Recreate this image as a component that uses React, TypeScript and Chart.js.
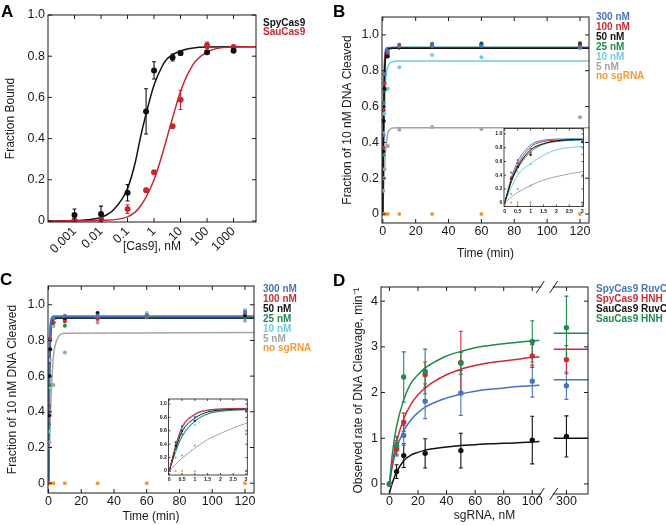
import React, { useEffect, useRef } from 'react';
import { Chart, registerables } from 'chart.js';
Chart.register(...registerables);

const FF = "'Liberation Sans', Arial, Helvetica, sans-serif";
const INK = '#1a1a1a';
const BLUE = '#4a74bf';
const RED = '#cc2b36';
const BLACK = '#111111';
const GREEN = '#1f8b4c';
const CYAN = '#73cbe3';
const GRAY = '#a4a4a4';
const ORANGE = '#f49a3a';
const ARED = '#c9262f';

// ---------------- Panel A ----------------
const aConc = [0.001, 0.01, 0.1, 0.5, 1, 5, 10, 100, 1000];
const aSpy = [0.029, 0.034, 0.137, 0.532, 0.731, 0.794, 0.815, 0.819, 0.827];
const aSpyErr = [0.029, 0.038, 0.04, 0.11, 0.042, 0.017, 0.01, 0.008, 0.008];
const aSau = [0.003, 0.01, 0.058, 0.149, 0.236, 0.46, 0.588, 0.853, 0.845];
const aSauErr = [0.006, 0.008, 0.021, 0.01, 0.008, 0.008, 0.047, 0.016, 0.006];
const aFitSpyX = [0.0001, 0.0003, 0.001, 0.003, 0.01, 0.03, 0.1, 0.2, 0.3, 0.5, 1, 2, 3, 10, 30, 100, 1000, 7000];
const aFitSpyY = [0, 0.0005, 0.002, 0.006, 0.018, 0.055, 0.158, 0.29, 0.4, 0.52, 0.66, 0.75, 0.785, 0.826, 0.84, 0.845, 0.846, 0.846];
const aFitSauX = [0.0001, 0.001, 0.01, 0.1, 0.3, 1, 2, 3, 5, 10, 30, 100, 300, 1000, 7000];
const aFitSauY = [0, 0.0005, 0.003, 0.02, 0.07, 0.2, 0.32, 0.4, 0.5, 0.63, 0.76, 0.82, 0.84, 0.845, 0.846];
const aXTicks = [0.001, 0.01, 0.1, 1, 10, 100, 1000];
const aXLabels = ['0.001', '0.01', '0.1', '1', '10', '100', '1000'];
const fracTicks = [0, 0.2, 0.4, 0.6, 0.8, 1.0];
const fracLabels = ['0', '0.2', '0.4', '0.6', '0.8', '1.0'];
const aLegend = [
  { text: 'SpyCas9', color: BLACK },
  { text: 'SauCas9', color: ARED },
];

// ---------------- Panel B ----------------
const bTimes = [0, 0.25, 0.5, 1, 3, 10, 30, 60, 120];
const b300 = [0, 0.44, 0.62, 0.78, 0.91, 0.935, 0.94, 0.94, 0.93];
const b100 = [0, 0.37, 0.58, 0.73, 0.9, 0.945, 0.937, 0.94, 0.94];
const b50 = [0, 0.35, 0.52, 0.7, 0.88, 0.93, 0.94, 0.945, 0.945];
const b25 = [0, 0.33, 0.52, 0.69, 0.89, 0.93, 0.95, 0.953, 0.955];
const b10 = [0, 0.34, 0.45, 0.56, 0.7, 0.82, 0.888, 0.875, 0.925];
const b5 = [0, 0.13, 0.2, 0.25, 0.38, 0.47, 0.486, 0.475, 0.54];
const bNone = [0, 0, 0, 0, 0, 0, 0, 0, 0];
const bFitT = [0, 0.25, 0.5, 1, 1.5, 2, 3, 4, 6, 10, 126];
const bFit300 = [0, 0.36, 0.6, 0.84, 0.91, 0.925, 0.93, 0.93, 0.93, 0.93, 0.93];
const bFit100 = [0, 0.33, 0.55, 0.81, 0.89, 0.91, 0.92, 0.925, 0.925, 0.925, 0.925];
const bFit50 = [0, 0.31, 0.52, 0.77, 0.86, 0.9, 0.92, 0.923, 0.925, 0.925, 0.925];
const bFit25 = [0, 0.3, 0.5, 0.74, 0.85, 0.89, 0.915, 0.925, 0.93, 0.93, 0.93];
const bFit10 = [0, 0.22, 0.4, 0.57, 0.69, 0.77, 0.82, 0.84, 0.85, 0.855, 0.855];
const bFit5 = [0, 0.08, 0.15, 0.25, 0.33, 0.38, 0.45, 0.47, 0.48, 0.482, 0.482];

// ---------------- Panel C ----------------
const cTimes = [0, 0.25, 0.5, 1, 3, 10, 30, 60, 120];
const c300 = [0, 0.42, 0.66, 0.8, 0.925, 0.938, 0.94, 0.94, 0.96];
const c100 = [0, 0.43, 0.67, 0.81, 0.9, 0.906, 0.92, 0.935, 0.955];
const c50 = [0, 0.38, 0.6, 0.75, 0.9, 0.92, 0.953, 0.94, 0.94];
const c25 = [0, 0.33, 0.55, 0.75, 0.897, 0.882, 0.93, 0.93, 0.93];
const c10 = [0, 0.29, 0.54, 0.69, 0.88, 0.92, 0.93, 0.953, 0.97];
const c5 = [0, 0.2, 0.23, 0.38, 0.55, 0.733, 0.9, 0.93, 0.91];
const cNone = [0, 0, 0, 0, 0, 0, 0, 0, 0];
const cFitT = [0, 0.25, 0.5, 1, 1.5, 2, 3, 4, 6, 10, 126];
const cFit300 = [0, 0.37, 0.64, 0.84, 0.905, 0.925, 0.935, 0.935, 0.935, 0.935, 0.935];
const cFit100 = [0, 0.38, 0.66, 0.85, 0.91, 0.925, 0.93, 0.93, 0.93, 0.93, 0.93];
const cFit50 = [0, 0.33, 0.59, 0.79, 0.88, 0.91, 0.925, 0.925, 0.925, 0.925, 0.925];
const cFit25 = [0, 0.29, 0.51, 0.74, 0.85, 0.89, 0.915, 0.92, 0.925, 0.925, 0.925];
const cFit10 = [0, 0.3, 0.53, 0.75, 0.855, 0.9, 0.92, 0.925, 0.93, 0.93, 0.93];
const cFit5 = [0, 0.1, 0.19, 0.34, 0.47, 0.56, 0.71, 0.77, 0.82, 0.84, 0.845];

const timeTicks = [0, 20, 40, 60, 80, 100, 120];
const timeLabels = ['0', '20', '40', '60', '80', '100', '120'];
const insetXTicks = [0, 0.5, 1, 1.5, 2, 2.5, 3];
const insetXLabels = ['0', '0.5', '1', '1.5', '2', '2.5', '3'];
const concLegend = [
  { text: '300 nM', color: BLUE },
  { text: '100 nM', color: RED },
  { text: '50 nM', color: BLACK },
  { text: '25 nM', color: GREEN },
  { text: '10 nM', color: CYAN },
  { text: '5 nM', color: GRAY },
  { text: 'no sgRNA', color: ORANGE },
];

// ---------------- Panel D ----------------
const dConc = [0, 5, 10, 25, 50, 100, 300];
const dSpyRuvC = [0, 0.8, 1.06, 1.81, 1.99, 2.25, 2.15];
const dSpyRuvCErr = [0, 0.15, 0.22, 0.38, 0.49, 0.35, 0.3];
const dSpyHNH = [0, 0.76, 1.35, 2.39, 2.66, 2.8, 2.72];
const dSpyHNHErr = [0, 0.15, 0.2, 0.28, 0.68, 0.25, 0.31];
const dSauRuvC = [0, 0.27, 0.62, 0.67, 0.73, 0.96, 1.04];
const dSauRuvCErr = [0, 0.15, 0.26, 0.32, 0.38, 0.52, 0.45];
const dSauHNH = [0, 0.84, 2.34, 2.46, 2.64, 3.12, 3.42];
const dSauHNHErr = [0, 0.2, 0.55, 0.49, 0.24, 0.45, 0.69];
const dFitX = [0, 2, 5, 10, 15, 20, 25, 30, 40, 50, 60, 70, 80, 90, 100, 105];
const dFitSpyRuvC = [0, 0.38, 0.77, 1.16, 1.4, 1.56, 1.68, 1.76, 1.88, 1.97, 2.03, 2.07, 2.1, 2.13, 2.15, 2.16];
const dFitSpyHNH = [0, 0.45, 0.92, 1.42, 1.74, 1.95, 2.1, 2.22, 2.39, 2.51, 2.59, 2.65, 2.69, 2.73, 2.77, 2.78];
const dFitSauRuvC = [-0.2, 0.02, 0.26, 0.51, 0.63, 0.69, 0.74, 0.77, 0.81, 0.84, 0.86, 0.88, 0.89, 0.9, 0.92, 0.93];
const dFitSauHNH = [0, 0.65, 1.26, 1.84, 2.2, 2.39, 2.54, 2.64, 2.8, 2.9, 2.98, 3.03, 3.07, 3.1, 3.13, 3.14];
const dPlateauX = [250, 400];
const dPlateauSpyRuvC = [2.28, 2.28];
const dPlateauSpyHNH = [2.95, 2.95];
const dPlateauSauRuvC = [1.0, 1.0];
const dPlateauSauHNH = [3.3, 3.3];
const dXTickVals = [0, 20, 40, 60, 80, 100, 300];
const dXLabels = ['0', '20', '40', '60', '80', '100', '300'];
const dYTicks = [0, 1, 2, 3, 4];
const dYLabels = ['0', '1', '2', '3', '4'];
const dLegend = [
  { text: 'SpyCas9 RuvC', color: BLUE },
  { text: 'SpyCas9 HNH', color: RED },
  { text: 'SauCas9 RuvC', color: BLACK },
  { text: 'SauCas9 HNH', color: GREEN },
];
// broken x axis: values up to 110 keep their place, the 300 region is compressed after the break
const D_BREAK_AT = 110;
const D_RIGHT_ORIGIN = 300;
const D_RIGHT_POS = 123.9;
const D_RIGHT_SCALE = 0.178;
const dMap = (v: number) => (v <= D_BREAK_AT ? v : D_RIGHT_POS + (v - D_RIGHT_ORIGIN) * D_RIGHT_SCALE);
const D_BREAK_MARKS = [105.6, 115.0];

// ---------------- helpers ----------------
const xy = (xs: number[], ys: number[], map?: (v: number) => number) =>
  xs.map((x, i) => ({ x: map ? map(x) : x, y: ys[i] }));

function pts(xs: number[], ys: number[], color: string, r: number, errs?: number[], map?: (v: number) => number): any {
  return {
    data: xy(xs, ys, map),
    showLine: false,
    pointRadius: r,
    pointBackgroundColor: color,
    pointBorderColor: color,
    pointBorderWidth: 0,
    borderColor: color,
    backgroundColor: color,
    errors: errs,
  };
}
function fit(xs: number[], ys: number[], color: string, w: number, map?: (v: number) => number): any {
  return {
    data: xy(xs, ys, map),
    pointRadius: 0,
    borderColor: color,
    borderWidth: w,
    cubicInterpolationMode: 'monotone',
    fill: false,
  };
}
function ordered(list: any[]) {
  const n = list.length;
  return list.map((d, i) => ({ ...d, order: n - i }));
}

function mkAxis(o: any) {
  return {
    type: o.type || 'linear',
    position: o.horizontal ? 'bottom' : 'left',
    min: o.min,
    max: o.max,
    grid: { display: false, drawTicks: false },
    border: { display: false },
    afterBuildTicks: (s: any) => {
      s.ticks = o.ticks.map((v: number) => ({ value: v }));
    },
    afterFit: (s: any) => {
      if (o.horizontal) s.height = o.size;
      else s.width = o.size;
    },
    ticks: {
      autoSkip: false,
      padding: o.pad,
      color: INK,
      font: o.font,
      maxRotation: o.rot || 0,
      minRotation: o.rot || 0,
      callback: (_v: any, i: number) => o.labels[i],
    },
    title: o.title
      ? {
          display: true,
          text: o.title,
          color: INK,
          font: { family: FF, size: 12 },
          padding: o.horizontal ? { top: 0, bottom: o.titlePad } : { top: o.titlePad, bottom: 0 },
        }
      : { display: false },
  };
}

const errPlugin = {
  id: 'errbars',
  beforeDatasetsDraw(chart: any) {
    const ctx = chart.ctx;
    const ys = chart.scales.y;
    chart.data.datasets.forEach((ds: any, di: number) => {
      if (!ds.errors) return;
      const meta = chart.getDatasetMeta(di);
      ctx.save();
      ctx.strokeStyle = ds.borderColor;
      ctx.lineWidth = 1.1;
      meta.data.forEach((el: any, i: number) => {
        const e = ds.errors[i];
        if (!e) return;
        const v = ds.data[i].y;
        const x = el.x;
        const y1 = ys.getPixelForValue(v + e);
        const y2 = ys.getPixelForValue(v - e);
        const cw = 2;
        ctx.beginPath();
        ctx.moveTo(x, y1);
        ctx.lineTo(x, y2);
        ctx.moveTo(x - cw, y1);
        ctx.lineTo(x + cw, y1);
        ctx.moveTo(x - cw, y2);
        ctx.lineTo(x + cw, y2);
        ctx.stroke();
      });
      ctx.restore();
    });
  },
};

function drawFrame(chart: any, tickLen: number, lw: number) {
  const { ctx, chartArea: a, scales } = chart;
  ctx.save();
  ctx.strokeStyle = INK;
  ctx.lineWidth = lw;
  ctx.strokeRect(a.left, a.top, a.right - a.left, a.bottom - a.top);
  ctx.beginPath();
  scales.x.ticks.forEach((t: any) => {
    const p = scales.x.getPixelForValue(t.value);
    ctx.moveTo(p, a.bottom);
    ctx.lineTo(p, a.bottom - tickLen);
    ctx.moveTo(p, a.top);
    ctx.lineTo(p, a.top + tickLen);
  });
  scales.y.ticks.forEach((t: any) => {
    const p = scales.y.getPixelForValue(t.value);
    ctx.moveTo(a.left, p);
    ctx.lineTo(a.left + tickLen, p);
    ctx.moveTo(a.right, p);
    ctx.lineTo(a.right - tickLen, p);
  });
  ctx.stroke();
  ctx.restore();
}

function drawText(ctx: any, text: string, x: number, y: number, font: string, color: string) {
  ctx.save();
  ctx.font = font;
  ctx.fillStyle = color;
  ctx.textAlign = 'left';
  ctx.textBaseline = 'alphabetic';
  ctx.fillText(text, x, y);
  ctx.restore();
}

function drawLegend(ctx: any, items: { text: string; color: string }[], x: number, y0: number, dy: number) {
  items.forEach((it, i) => drawText(ctx, it.text, x, y0 + i * dy, `bold 10px ${FF}`, it.color));
}

function overlay(fn: (chart: any) => void) {
  return { id: 'overlay', afterDraw: fn };
}

function baseConfig(datasets: any[], scales: any, padding: any, draw: (c: any) => void) {
  return {
    type: 'line',
    data: { datasets },
    options: {
      animation: false,
      responsive: false,
      maintainAspectRatio: false,
      events: [],
      layout: { padding },
      plugins: { legend: { display: false }, tooltip: { enabled: false } },
      scales,
    },
    plugins: [errPlugin, overlay(draw)],
  };
}

const tickFont = { family: FF, size: 12.5 };
const insetFont = { family: FF, size: 5.2, weight: 'bold' };

// ---------------- configs ----------------
function configA() {
  const ds = ordered([
    fit(aFitSpyX, aFitSpyY, BLACK, 1.5),
    fit(aFitSauX, aFitSauY, ARED, 1.5),
    pts(aConc, aSau, ARED, 3, aSauErr),
    pts(aConc, aSpy, BLACK, 3, aSpyErr),
  ]);
  return baseConfig(
    ds,
    {
      x: mkAxis({ type: 'logarithmic', horizontal: true, min: 0.0001, max: 7000, ticks: aXTicks, labels: aXLabels, size: 40, font: tickFont, pad: 2, rot: 45, title: '[Cas9], nM', titlePad: 8 }),
      y: mkAxis({ horizontal: false, min: -0.005, max: 1.0, ticks: fracTicks, labels: fracLabels, size: 48, font: tickFont, pad: 3, title: 'Fraction Bound', titlePad: 3 }),
    },
    { left: 0, top: 15, right: 77, bottom: 0 },
    (c) => {
      drawFrame(c, 4, 1);
      drawLegend(c.ctx, aLegend, 263, 25.5, 9.2);
      drawText(c.ctx, 'A', 1, 17, `bold 17px ${FF}`, '#000');
    }
  );
}

function kineticDatasets(t: number[], s: number[][], ft: number[], f: number[][], r: number, lw: number, topLine: number) {
  const colors = [BLUE, RED, BLACK, GREEN, CYAN, GRAY];
  const lineOrder = [5, 4, 0, 1, 3, 2];
  const fitsList = lineOrder.filter((i) => i !== topLine).concat([topLine]).map((i) =>
    fit(ft, f[i], colors[i], i === topLine && lw > 1.5 ? lw : Math.min(lw, 1.5))
  );
  const ptsList = [5, 4, 3, 2, 1, 0].map((i) => pts(t, s[i], colors[i], r));
  return ordered([...fitsList, ...ptsList, pts(t, s[6], ORANGE, r)]);
}

function configB() {
  const ds = kineticDatasets(bTimes, [b300, b100, b50, b25, b10, b5, bNone], bFitT, [bFit300, bFit100, bFit50, bFit25, bFit10, bFit5], 2, 1.5, 2);
  return baseConfig(
    ds,
    {
      x: mkAxis({ horizontal: true, min: -0.5, max: 125.5, ticks: timeTicks, labels: timeLabels, size: 39, font: tickFont, pad: 1.5, title: 'Time (min)', titlePad: 1 }),
      y: mkAxis({ horizontal: false, min: -0.05, max: 1.1, ticks: fracTicks, labels: fracLabels, size: 49, font: tickFont, pad: 3, title: 'Fraction of 10 nM DNA Cleaved', titlePad: 7 }),
    },
    { left: 0, top: 17, right: 77, bottom: 0 },
    (c) => {
      drawFrame(c, 4, 1);
      drawLegend(c.ctx, concLegend, 263, 20, 9.9);
      drawText(c.ctx, 'B', 0, 17, `bold 17px ${FF}`, '#000');
    }
  );
}

function configC() {
  const ds = kineticDatasets(cTimes, [c300, c100, c50, c25, c10, c5, cNone], cFitT, [cFit300, cFit100, cFit50, cFit25, cFit10, cFit5], 2, 2.2, 0);
  return baseConfig(
    ds,
    {
      x: mkAxis({ horizontal: true, min: -0.3, max: 125.5, ticks: timeTicks, labels: timeLabels, size: 32, font: tickFont, pad: 1, title: 'Time (min)', titlePad: 1 }),
      y: mkAxis({ horizontal: false, min: -0.055, max: 1.105, ticks: fracTicks, labels: fracLabels, size: 48, font: tickFont, pad: 3, title: 'Fraction of 10 nM DNA Cleaved', titlePad: 5 }),
    },
    { left: 0, top: 24, right: 79, bottom: 0 },
    (c) => {
      drawFrame(c, 4, 1);
      drawLegend(c.ctx, concLegend, 263, 30, 9.9);
      drawText(c.ctx, 'C', 0, 23, `bold 17px ${FF}`, '#000');
    }
  );
}

function configInset(t: number[], s: number[][], ft: number[], f: number[][], ymin: number, ymax: number, pad: any, xSize: number, ySize: number, topLine: number) {
  const ds = kineticDatasets(t, s, ft, f, 1.1, 1, topLine);
  return baseConfig(
    ds,
    {
      x: mkAxis({ horizontal: true, min: -0.03, max: 3.05, ticks: insetXTicks, labels: insetXLabels, size: xSize, font: insetFont, pad: 1.5 }),
      y: mkAxis({ horizontal: false, min: ymin, max: ymax, ticks: fracTicks, labels: fracLabels, size: ySize, font: insetFont, pad: 1.5 }),
    },
    pad,
    (c) => drawFrame(c, 2, 0.8)
  );
}

function configInsetB() {
  return configInset(bTimes, [b300, b100, b50, b25, b10, b5, bNone], bFitT, [bFit300, bFit100, bFit50, bFit25, bFit10, bFit5], -0.055, 1.08, { left: 0, top: 16.5, right: 6.5, bottom: 0 }, 11.5, 24, 2);
}
function configInsetC() {
  return configInset(cTimes, [c300, c100, c50, c25, c10, c5, cNone], cFitT, [cFit300, cFit100, cFit50, cFit25, cFit10, cFit5], -0.06, 1.075, { left: 0, top: 16, right: 7.7, bottom: 0 }, 8, 23.5, 1);
}

function configD() {
  const ds = ordered([
    fit(dFitX, dFitSauRuvC, BLACK, 1.5),
    fit(dPlateauX, dPlateauSauRuvC, BLACK, 1.5, dMap),
    fit(dFitX, dFitSpyRuvC, BLUE, 1.5),
    fit(dPlateauX, dPlateauSpyRuvC, BLUE, 1.5, dMap),
    fit(dFitX, dFitSpyHNH, RED, 1.5),
    fit(dPlateauX, dPlateauSpyHNH, RED, 1.5, dMap),
    fit(dFitX, dFitSauHNH, GREEN, 1.5),
    fit(dPlateauX, dPlateauSauHNH, GREEN, 1.5, dMap),
    pts(dConc, dSauRuvC, BLACK, 2.7, dSauRuvCErr, dMap),
    pts(dConc, dSpyRuvC, BLUE, 2.7, dSpyRuvCErr, dMap),
    pts(dConc, dSpyHNH, RED, 2.7, dSpyHNHErr, dMap),
    pts(dConc, dSauHNH, GREEN, 2.7, dSauHNHErr, dMap),
  ]);
  return baseConfig(
    ds,
    {
      x: mkAxis({ horizontal: true, min: -5.9, max: 139, ticks: dXTickVals.map(dMap), labels: dXLabels, size: 31, font: tickFont, pad: 0, title: 'sgRNA, nM', titlePad: 1.8 }),
      y: mkAxis({ horizontal: false, min: -0.22, max: 4.31, ticks: dYTicks, labels: dYLabels, size: 48, font: tickFont, pad: 3, title: 'Observed rate of DNA Cleavage, min\u207B\u00B9', titlePad: 18 }),
    },
    { left: 0, top: 25, right: 78, bottom: 0 },
    (c) => {
      drawFrame(c, 4, 1);
      const { ctx, chartArea: a, scales } = c;
      const [p1, p2] = D_BREAK_MARKS.map((v) => scales.x.getPixelForValue(v));
      ctx.save();
      ctx.fillStyle = '#ffffff';
      [a.top, a.bottom].forEach((y: number) => ctx.fillRect(p1 + 1, y - 2, p2 - p1 - 2, 4));
      ctx.strokeStyle = INK;
      ctx.lineWidth = 1;
      [a.top, a.bottom].forEach((y: number) =>
        [p1, p2].forEach((p) => {
          ctx.beginPath();
          ctx.moveTo(p - 4, y + 6);
          ctx.lineTo(p + 4, y - 6);
          ctx.stroke();
        })
      );
      ctx.restore();
      drawLegend(ctx, dLegend, 263, 30, 9.9);
      drawText(ctx, 'D', 0, 24, `bold 17px ${FF}`, '#000');
    }
  );
}

function ChartBox({ left, top, width, height, make }: { left: number; top: number; width: number; height: number; make: () => any }) {
  const ref = useRef<HTMLCanvasElement>(null);
  useEffect(() => {
    const chart = new Chart(ref.current as HTMLCanvasElement, make());
    return () => chart.destroy();
  }, []);
  return (
    <div style={{ position: 'absolute', left, top, width, height }}>
      <canvas ref={ref} width={width} height={height} style={{ width, height, display: 'block' }} />
    </div>
  );
}

export default function App() {
  return (
    <div style={{ position: 'absolute', left: 0, top: 0, width: 666, height: 525, background: '#ffffff', overflow: 'hidden' }}>
      <ChartBox left={0} top={0} width={333} height={262} make={configA} />
      <ChartBox left={333} top={0} width={333} height={262} make={configB} />
      <ChartBox left={0} top={262} width={333} height={263} make={configC} />
      <ChartBox left={333} top={262} width={333} height={263} make={configD} />
      <ChartBox left={480} top={112} width={110} height={106} make={configInsetB} />
      <ChartBox left={145} top={383} width={110} height={100} make={configInsetC} />
    </div>
  );
}
